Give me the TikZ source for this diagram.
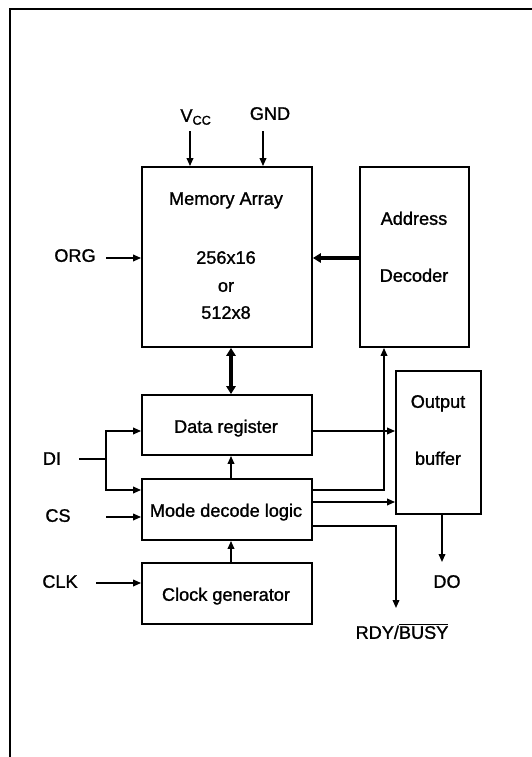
\documentclass[tikz,border=0pt]{standalone}
\usepackage{fontspec}
\setmainfont{Liberation Sans}[UprightFeatures={FakeBold=1.2}]
\usetikzlibrary{arrows.meta,fit,calc}
\begin{document}
\begin{tikzpicture}[x=0.75pt,y=-0.75pt,
  font=\fontsize{13.6}{16}\selectfont,
  box/.style={draw, line width=1.4pt, inner sep=0pt},
  txt/.style={inner sep=0pt, text height=0.72em, text depth=0pt},
  arr/.style={line width=1.15pt, -{Triangle[length=6pt,width=5pt]}},
  plain/.style={line width=1.15pt},
  tarr/.style={line width=2.8pt, -{Triangle[length=6pt,width=7pt]}},
  tdarr/.style={line width=2.8pt, {Triangle[length=6pt,width=7pt]}-{Triangle[length=6pt,width=7pt]}}]
\useasboundingbox (0,0) rectangle (532,757);
\draw[line width=1.5pt] (532,8.5) -- (10,8.5) -- (10,757);

% boxes
\node[box, fit={(142,167)(312,347)}] (mem) {};
\node[box, fit={(360,167)(469,347)}] (adec) {};
\node[box, fit={(142,395)(312,455)}] (dreg) {};
\node[box, fit={(142,479)(312,540)}] (mode) {};
\node[box, fit={(142,563)(312,624)}] (clk) {};
\node[box, fit={(396,371)(481,514)}] (obuf) {};

% texts in boxes
\node[txt] (tmem) at (226,200) {Memory Array};
\node[txt] (t256) at (226,259) {256x16};
\node[txt] (tor) at (226,287) {or};
\node[txt] (t512) at (226,314) {512x8};
\node[txt] (taddr) at (414,220) {Address};
\node[txt] (tdec) at (414,277) {Decoder};
\node[txt] (tdreg) at (226,428) {Data register};
\node[txt] (tmode) at (226,512) {Mode decode logic};
\node[txt] (tclk) at (226,596) {Clock generator};
\node[txt] (tout) at (438,403) {Output};
\node[txt] (tbuf) at (438,460) {buffer};

% outside labels
\node[txt] (vcc) at (196,117) {V\textsubscript{CC}};
\node[txt] (gnd) at (270,115) {GND};
\node[txt] (org) at (75,257) {ORG};
\node[txt] (di) at (52,460) {DI};
\node[txt] (cs) at (58,517) {CS};
\node[txt] (clkl) at (60,583) {CLK};
\node[txt] (do) at (447,583) {DO};
\node[txt] (rdy) at (402,634) {RDY/$\overline{\mbox{BUSY}}$};

% coordinates
\coordinate (vccs) at (190,131);
\coordinate (gnds) at (263,131);
\coordinate (orgs) at (106,258);
\coordinate (yad) at (0,258);
\coordinate (xc) at (231,0);
\coordinate (dis) at (79,459);
\coordinate (dij) at (106,459);
\coordinate (ydr) at (0,431);
\coordinate (ymd) at (0,490);
\coordinate (css) at (106,517);
\coordinate (clks) at (96,583);
\coordinate (xad) at (384,0);
\coordinate (yob) at (0,502);
\coordinate (yrdy) at (0,526);
\coordinate (rdyend) at (396,608);
\coordinate (doend) at (442,562);

% connectors
\draw[arr] (vccs) -- (vccs |- mem.north);
\draw[arr] (gnds) -- (gnds |- mem.north);
\draw[arr] (orgs) -- (orgs -| mem.west);
\draw[tarr] (yad -| adec.west) -- (yad -| mem.east);
\draw[tdarr] (xc |- mem.south) -- (xc |- dreg.north);
\draw[arr] (xc |- mode.north) -- (xc |- dreg.south);
\draw[arr] (xc |- clk.north) -- (xc |- mode.south);
\draw[plain] (dis) -- (dij);
\draw[arr] (dij) |- (ydr -| dreg.west);
\draw[arr] (dij) |- (ymd -| mode.west);
\draw[arr] (css) -- (css -| mode.west);
\draw[arr] (clks) -- (clks -| clk.west);
\draw[arr] (ydr -| dreg.east) -- (ydr -| obuf.west);
\draw[arr] (ymd -| mode.east) -| (xad |- adec.south);
\draw[arr] (yob -| mode.east) -- (yob -| obuf.west);
\draw[arr] (yrdy -| mode.east) -| (rdyend);
\draw[arr] (doend |- obuf.south) -- (doend);
\end{tikzpicture}
\end{document}
